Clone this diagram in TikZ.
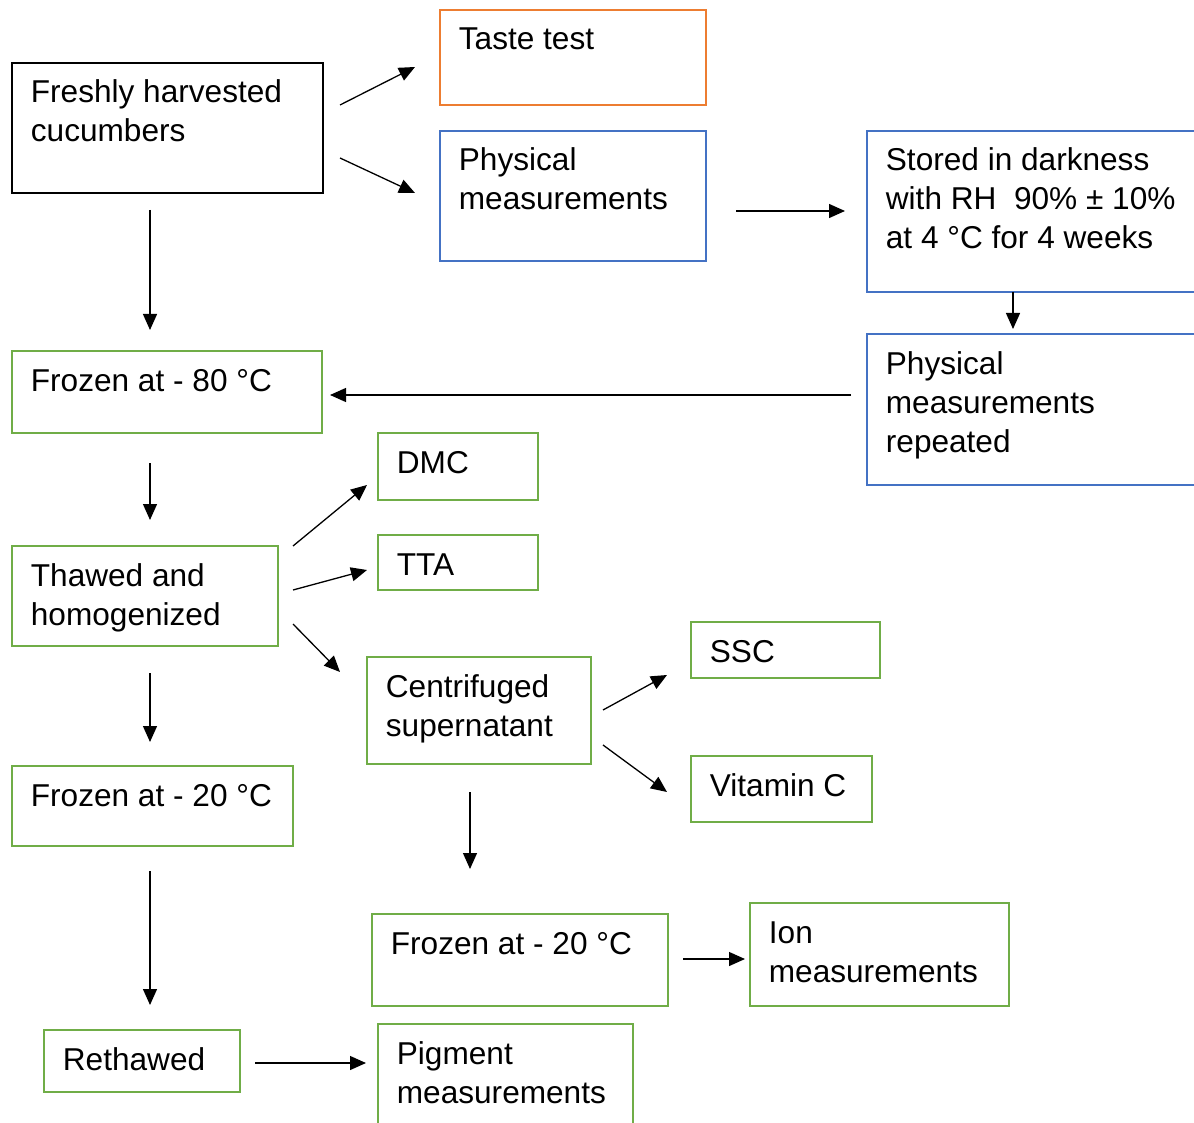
\documentclass[tikz,border=0pt]{standalone}
\usepackage{fontspec}
\setmainfont{Liberation Sans}
\usetikzlibrary{arrows.meta}
\definecolor{BoxOrange}{HTML}{ED7D31}
\definecolor{BoxBlue}{HTML}{4472C4}
\definecolor{BoxGreen}{HTML}{70AD47}
\newcommand{\boxlines}[1]{\begin{tabular}[t]{@{}l@{}}#1\end{tabular}}
\tikzset{
  stagebox/.style={line width=1.3pt,anchor=north west,inner sep=0pt,outer sep=0pt},
  blackbox/.style={stagebox,draw=black},
  orangebox/.style={stagebox,draw=BoxOrange},
  bluebox/.style={stagebox,draw=BoxBlue},
  greenbox/.style={stagebox,draw=BoxGreen},
  boxtext/.style={anchor=base west,inner sep=0pt,xshift=9.25pt,yshift=-20pt,font=\fontsize{15.8}{19.5}\selectfont},
  flowarrow/.style={-{Triangle[length=8pt,width=7pt]},line width=0.65pt,draw=black}
}

\begin{document}
\begin{tikzpicture}[x=0.5pt,y=-0.5pt]
\useasboundingbox (0,0) rectangle (1194,1123);
% boxes
\node[blackbox,minimum width=155.5pt,minimum height=65pt,label={[boxtext]north west:\boxlines{Freshly harvested\\cucumbers}}] (fresh) at (12,63) {};
\node[orangebox,minimum width=133pt,minimum height=47.5pt,label={[boxtext]north west:\boxlines{Taste test}}] (taste) at (440,10) {};
\node[bluebox,minimum width=133pt,minimum height=65pt,label={[boxtext]north west:\boxlines{Physical\\measurements}}] (phys) at (440,131) {};
\node[bluebox,minimum width=166.5pt,minimum height=80.5pt,label={[boxtext]north west:\boxlines{Stored in darkness\\with RH\ \ 90\% ± 10\%\\at 4 °C for 4 weeks}}] (stored) at (867,131) {};
\node[bluebox,minimum width=166.5pt,minimum height=75.5pt,label={[boxtext]north west:\boxlines{Physical\\measurements\\repeated}}] (physrep) at (867,334) {};
\node[greenbox,minimum width=155pt,minimum height=41pt,label={[boxtext]north west:\boxlines{Frozen at - 80 °C}}] (frozeneighty) at (12,351) {};
\node[greenbox,minimum width=80pt,minimum height=33.5pt,label={[boxtext]north west:\boxlines{DMC}}] (dmc) at (378,433) {};
\node[greenbox,minimum width=80pt,minimum height=27.5pt,label={[boxtext]north west:\boxlines{TTA}}] (tta) at (378,535) {};
\node[greenbox,minimum width=133pt,minimum height=50pt,label={[boxtext]north west:\boxlines{Thawed and\\homogenized}}] (thawed) at (12,546) {};
\node[greenbox,minimum width=112pt,minimum height=53.5pt,label={[boxtext]north west:\boxlines{Centrifuged\\supernatant}}] (centri) at (367,657) {};
\node[greenbox,minimum width=94.5pt,minimum height=28pt,label={[boxtext]north west:\boxlines{SSC}}] (ssc) at (691,622) {};
\node[greenbox,minimum width=90.5pt,minimum height=33pt,label={[boxtext]north west:\boxlines{Vitamin C}}] (vitc) at (691,756) {};
\node[greenbox,minimum width=140.5pt,minimum height=40pt,label={[boxtext]north west:\boxlines{Frozen at - 20 °C}}] (frozentwenty) at (12,766) {};
\node[greenbox,minimum width=148pt,minimum height=46pt,label={[boxtext]north west:\boxlines{Frozen at - 20 °C}}] (frozentwentyb) at (372,914) {};
\node[greenbox,minimum width=129.5pt,minimum height=51.5pt,label={[boxtext]north west:\boxlines{Ion\\measurements}}] (ion) at (750,903) {};
\node[greenbox,minimum width=98pt,minimum height=31pt,label={[boxtext]north west:\boxlines{Rethawed}}] (rethawed) at (44,1030) {};
\node[greenbox,minimum width=127.5pt,minimum height=55.5pt,label={[boxtext]north west:\boxlines{Pigment\\measurements}}] (pigment) at (378,1024) {};
% arrow ends (arrows stop short of the boxes)
\coordinate (fresh-out-a) at (340,105);   \coordinate (taste-in) at (415,67);
\coordinate (fresh-out-b) at (340,158);   \coordinate (phys-in) at (415,193);
\coordinate (fresh-out-c) at (150,210);   \coordinate (frozeneighty-in) at (150,330);
\coordinate (phys-out) at (736,211);      \coordinate (stored-in) at (845,211);
\coordinate (stored-out) at (1013,292);   \coordinate (physrep-in) at (1013,329);
\coordinate (physrep-out) at (851,395);   \coordinate (frozeneighty-back) at (330,395);
\coordinate (frozeneighty-out) at (150,463); \coordinate (thawed-in) at (150,520);
\coordinate (thawed-out-a) at (293,546);  \coordinate (dmc-in) at (367,485);
\coordinate (thawed-out-b) at (293,590);  \coordinate (tta-in) at (367,570);
\coordinate (thawed-out-c) at (293,624);  \coordinate (centri-in) at (340,672);
\coordinate (thawed-out-d) at (150,673);  \coordinate (frozentwenty-in) at (150,742);
\coordinate (centri-out-a) at (603,710);  \coordinate (ssc-in) at (667,675);
\coordinate (centri-out-b) at (603,745);  \coordinate (vitc-in) at (667,792);
\coordinate (centri-out-c) at (470,792);  \coordinate (frozentwentyb-in) at (470,869);
\coordinate (frozentwenty-out) at (150,871); \coordinate (rethawed-in) at (150,1005);
\coordinate (frozentwentyb-out) at (683,959); \coordinate (ion-in) at (745,959);
\coordinate (rethawed-out) at (255,1063); \coordinate (pigment-in) at (366,1063);
% arrows
\draw[flowarrow] (fresh-out-a) -- (taste-in);
\draw[flowarrow] (fresh-out-b) -- (phys-in);
\draw[flowarrow] (fresh-out-c) -- (frozeneighty-in);
\draw[flowarrow] (phys-out) -- (stored-in);
\draw[flowarrow] (stored-out) -- (physrep-in);
\draw[flowarrow] (physrep-out) -- (frozeneighty-back);
\draw[flowarrow] (frozeneighty-out) -- (thawed-in);
\draw[flowarrow] (thawed-out-a) -- (dmc-in);
\draw[flowarrow] (thawed-out-b) -- (tta-in);
\draw[flowarrow] (thawed-out-c) -- (centri-in);
\draw[flowarrow] (thawed-out-d) -- (frozentwenty-in);
\draw[flowarrow] (centri-out-a) -- (ssc-in);
\draw[flowarrow] (centri-out-b) -- (vitc-in);
\draw[flowarrow] (centri-out-c) -- (frozentwentyb-in);
\draw[flowarrow] (frozentwenty-out) -- (rethawed-in);
\draw[flowarrow] (frozentwentyb-out) -- (ion-in);
\draw[flowarrow] (rethawed-out) -- (pigment-in);
\end{tikzpicture}
\end{document}
